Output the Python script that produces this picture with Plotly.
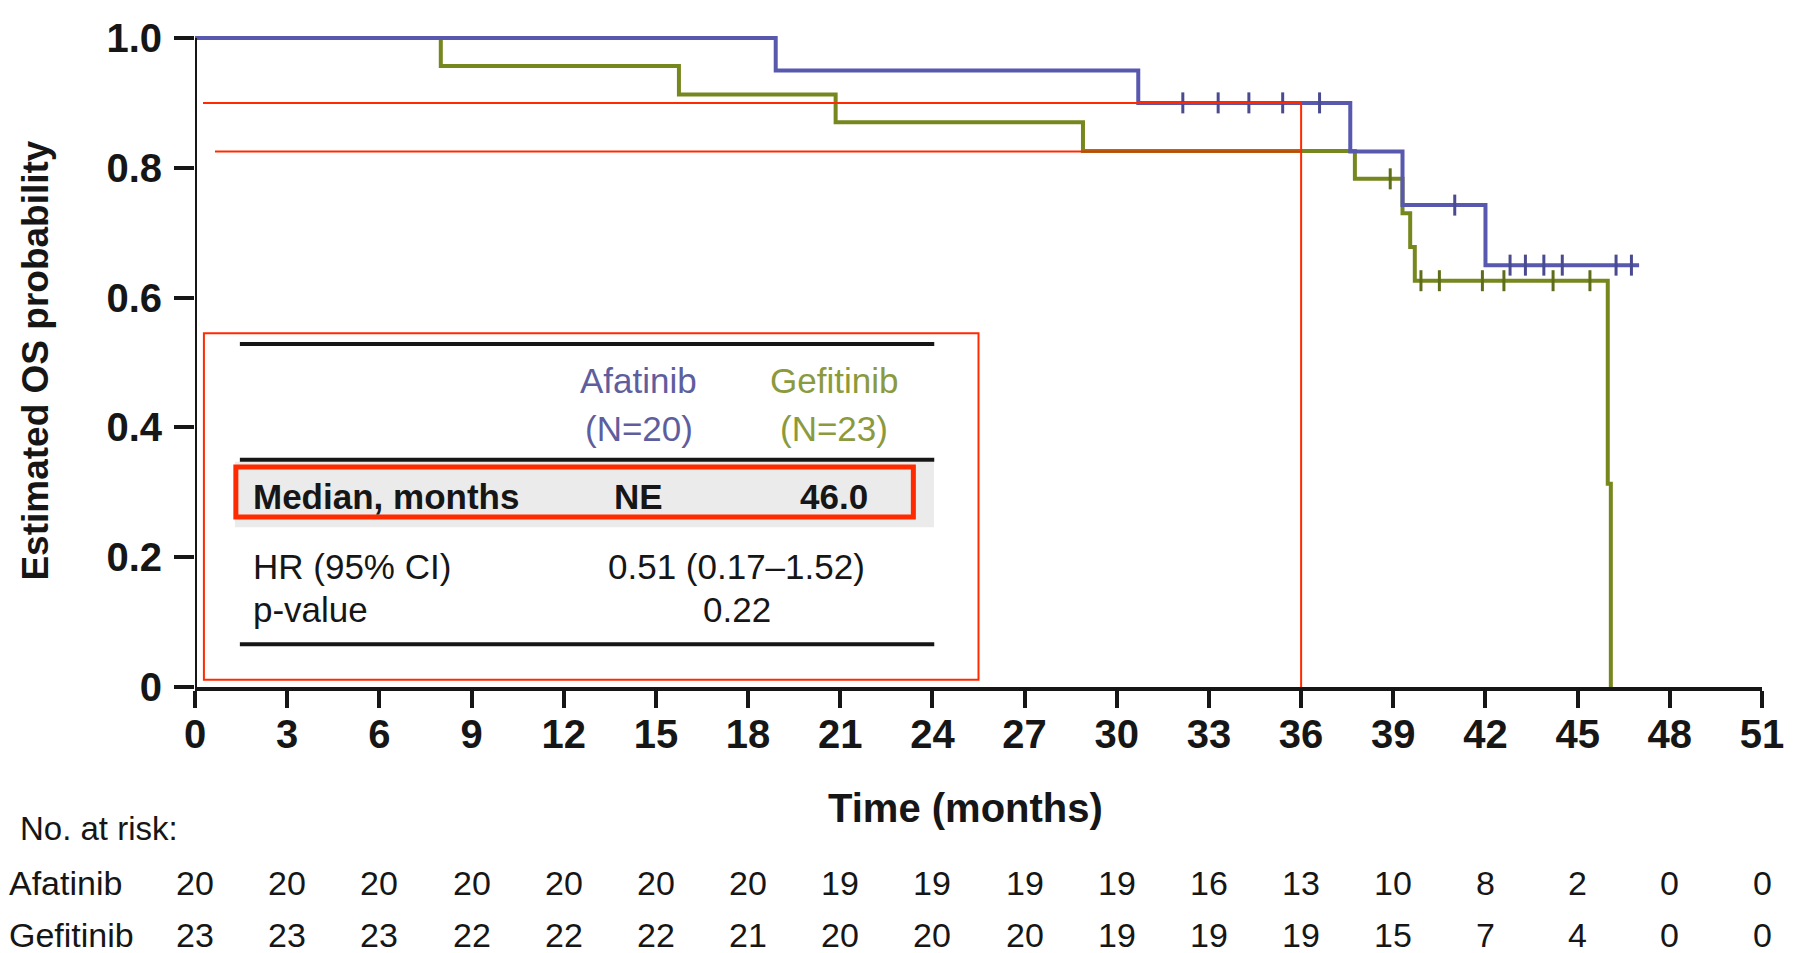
import plotly.graph_objects as go

# ---- Kaplan–Meier steps (months, estimated OS probability) ----
afatinib_time = [0, 18.9, 30.7, 37.6, 39.3, 42.0, 47.0]
afatinib_surv = [1.0, 0.95, 0.90, 0.825, 0.7425, 0.65, 0.65]
afatinib_cens_time = [32.15, 33.3, 34.3, 35.4, 36.6, 41.0, 42.8, 43.3, 43.9, 44.5, 46.25, 46.75]
afatinib_cens_surv = [0.90, 0.90, 0.90, 0.90, 0.90, 0.7425, 0.65, 0.65, 0.65, 0.65, 0.65, 0.65]

gefitinib_time = [0, 8.0, 15.75, 20.85, 28.9, 37.75, 39.3, 39.55, 39.7, 45.98, 46.08]
gefitinib_surv = [1.0, 0.957, 0.913, 0.870, 0.826, 0.783, 0.730, 0.678, 0.626, 0.313, 0.0]
gefitinib_cens_time = [38.9, 39.9, 40.5, 41.9, 42.6, 44.2, 45.4]
gefitinib_cens_surv = [0.783, 0.626, 0.626, 0.626, 0.626, 0.626, 0.626]

# ---- axis ticks ----
x_ticks = [0, 3, 6, 9, 12, 15, 18, 21, 24, 27, 30, 33, 36, 39, 42, 45, 48, 51]
y_ticks = [0, 0.2, 0.4, 0.6, 0.8, 1.0]
y_tick_labels = ["0", "0.2", "0.4", "0.6", "0.8", "1.0"]

# ---- numbers at risk ----
risk_arms = ["Afatinib", "Gefitinib"]
afatinib_at_risk = [20, 20, 20, 20, 20, 20, 20, 19, 19, 19, 19, 16, 13, 10, 8, 2, 0, 0]
gefitinib_at_risk = [23, 23, 23, 22, 22, 22, 21, 20, 20, 20, 19, 19, 19, 15, 7, 4, 0, 0]

# ---- reference lines: 36-month landmark and survival levels ----
landmark_month = 36
landmark_levels = [0.90, 0.825]

# ---- summary table ----
table_arms = ["Afatinib", "Gefitinib"]
table_n = ["(N=20)", "(N=23)"]
median_months = ["NE", "46.0"]
hr_text = "0.51 (0.17\u20131.52)"
p_text = "0.22"

BLUE = "#5858AF"
GREEN = "#76871E"
RED = "#FF2A00"
INK = "#161616"
FONT = "Liberation Sans, Arial, sans-serif"

fig = go.Figure()

fig.add_trace(go.Scatter(x=gefitinib_time, y=gefitinib_surv, mode="lines",
                         line=dict(color=GREEN, width=4, shape="hv"), showlegend=False))
fig.add_trace(go.Scatter(x=afatinib_time, y=afatinib_surv, mode="lines",
                         line=dict(color=BLUE, width=4, shape="hv"), showlegend=False))
fig.add_trace(go.Scatter(x=gefitinib_cens_time, y=gefitinib_cens_surv, mode="markers",
                         marker=dict(symbol="line-ns", size=15, line=dict(color="#5E6E18", width=3)),
                         showlegend=False))
fig.add_trace(go.Scatter(x=afatinib_cens_time, y=afatinib_cens_surv, mode="markers",
                         marker=dict(symbol="line-ns", size=15, line=dict(color="#4A4A90", width=3)),
                         showlegend=False))

shapes = []
# y axis line up to 1.0
shapes.append(dict(type="line", xref="x", yref="y", x0=0, x1=0, y0=0, y1=1.0,
                   line=dict(color=INK, width=4)))
# red reference lines
shapes.append(dict(type="line", xref="x", yref="y", x0=0.26, x1=landmark_month,
                   y0=landmark_levels[0], y1=landmark_levels[0], line=dict(color=RED, width=2)))
shapes.append(dict(type="line", xref="x", yref="y", x0=0.65, x1=landmark_month,
                   y0=landmark_levels[1], y1=landmark_levels[1], line=dict(color=RED, width=2)))
shapes.append(dict(type="line", xref="x", yref="y", x0=landmark_month, x1=landmark_month,
                   y0=0, y1=landmark_levels[0], line=dict(color=RED, width=2)))
# table frame
shapes.append(dict(type="rect", xref="x", yref="y", x0=0.29, x1=25.5, y0=0.011, y1=0.545,
                   line=dict(color=RED, width=2), fillcolor="rgba(255,255,255,0)"))
# shaded median row
shapes.append(dict(type="rect", xref="x", yref="y", x0=1.3, x1=24.05, y0=0.246, y1=0.347,
                   line=dict(width=0), fillcolor="#EBEBEB", layer="below"))
# table rules
for yv in (0.5285, 0.350, 0.066):
    shapes.append(dict(type="line", xref="x", yref="y", x0=1.46, x1=24.06, y0=yv, y1=yv,
                       line=dict(color=INK, width=4)))
# highlight box around median row
shapes.append(dict(type="rect", xref="x", yref="y", x0=1.33, x1=23.38, y0=0.262, y1=0.339,
                   line=dict(color=RED, width=5), fillcolor="rgba(255,255,255,0)"))

ann = []


def label(x, y, text, size, xref="x", yref="y", xanchor="center", color=INK, weight="normal", angle=0):
    ann.append(dict(x=x, y=y, xref=xref, yref=yref, text=text, showarrow=False,
                    xanchor=xanchor, yanchor="middle", textangle=angle,
                    font=dict(family=FONT, size=size, color=color, weight=weight)))


col_x = [14.45, 20.8]
arm_colors = ["#5E5E9E", "#8A9A3C"]
for cx, arm, n, med, col in zip(col_x, table_arms, table_n, median_months, arm_colors):
    label(cx, 0.473, arm, 35, color=col)
    label(cx, 0.398, n, 35, color=col)
    label(cx, 0.294, med, 35, weight="bold")
label(1.82, 0.294, "Median, months", 35, xanchor="left", weight="bold")
label(1.82, 0.186, "HR (95% CI)", 35, xanchor="left")
label(1.82, 0.119, "p-value", 35, xanchor="left")
label(17.63, 0.186, hr_text, 35)
label(17.63, 0.119, p_text, 35)

# axis titles
label(0.4917, -0.1828, "Time (months)", 40, xref="paper", yref="paper", weight="bold")
label(-0.1024, 0.4924, "Estimated OS probability", 37, xref="paper", yref="paper",
      weight="bold", angle=-90)

# numbers at risk
label(-0.1132, -0.2145, "No. at risk:", 33, xref="paper", yref="paper", xanchor="left")
row_y = [-0.2968, -0.3739]
for ry, arm, counts in zip(row_y, risk_arms, [afatinib_at_risk, gefitinib_at_risk]):
    label(-0.1202, ry, arm, 34, xref="paper", yref="paper", xanchor="left")
    for t, c in zip(x_ticks, counts):
        label(t, ry, str(c), 34, xref="x", yref="paper")

fig.update_layout(
    width=1796, height=953,
    margin=dict(l=195, r=29, t=25, b=266),
    paper_bgcolor="white", plot_bgcolor="white",
    shapes=shapes, annotations=ann,
    xaxis=dict(range=[0, 51], tickvals=x_ticks, ticktext=[str(v) for v in x_ticks],
               showgrid=False, zeroline=False, showline=True, linecolor=INK, linewidth=4,
               ticks="outside", ticklen=17, tickwidth=4, tickcolor=INK,
               ticklabelstandoff=-8,
               tickfont=dict(family=FONT, size=40, color=INK, weight="bold")),
    yaxis=dict(range=[0, 1.02], tickvals=y_ticks, ticktext=y_tick_labels,
               showgrid=False, zeroline=False, showline=False,
               ticks="outside", ticklen=20, tickwidth=4, tickcolor=INK,
               ticklabelstandoff=4,
               tickfont=dict(family=FONT, size=40, color=INK, weight="bold")),
)

fig.write_html("out.html")
